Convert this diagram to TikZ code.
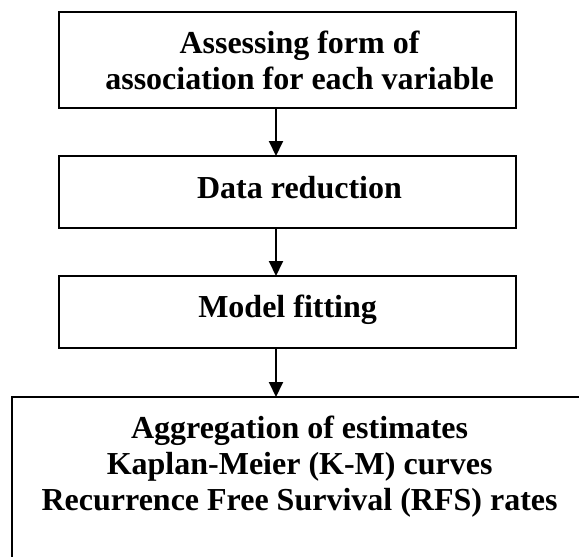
\documentclass[tikz,border=0pt]{standalone}
\usepackage{fontspec}
\setmainfont{Liberation Serif}
\usetikzlibrary{arrows.meta}
\begin{document}
\begin{tikzpicture}[x=0.5pt,y=-0.5pt,
  stepbox/.style={draw,line width=1pt,rectangle,inner sep=0pt,outer sep=0pt},
  txt/.style={font=\fontsize{16pt}{18pt}\selectfont\bfseries,align=center,inner sep=0pt,anchor=base},
  arr/.style={line width=1pt,-{Triangle[length=7.5pt,width=7pt]}}]
\clip (0,0) rectangle (579,557);
\fill[white] (0,0) rectangle (579,557);
\node[stepbox,minimum width=228.5pt,minimum height=48pt] (b1) at (287.5,60) {};
\node[stepbox,minimum width=228.5pt,minimum height=36pt] (b2) at (287.5,192) {};
\node[stepbox,minimum width=228.5pt,minimum height=36pt] (b3) at (287.5,312) {};
\node[stepbox,minimum width=288pt,minimum height=100pt] (b4) at (300,497) {};
\node[txt] (t1) at (299.5,89.3) {Assessing form of\\association for each variable};
\node[txt] (t2) at (299.5,198) {Data reduction};
\node[txt] (t3) at (287.6,317.3) {Model fitting};
\node[txt] (t4) at (299.6,510) {Aggregation of estimates\\Kaplan-Meier (K-M) curves\\Recurrence Free Survival (RFS) rates};
\coordinate (ax) at (276,0);
\draw[arr] (b1.south -| ax) -- (b2.north -| ax);
\draw[arr] (b2.south -| ax) -- (b3.north -| ax);
\draw[arr] (b3.south -| ax) -- (b4.north -| ax);
\end{tikzpicture}
\end{document}
